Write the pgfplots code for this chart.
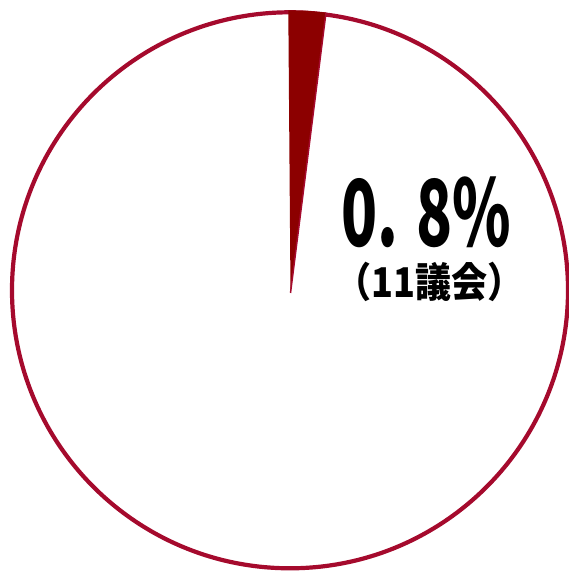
\documentclass[border=0pt]{standalone}
\usepackage{fontspec}
\usepackage{pgfplots}
\pgfplotsset{compat=1.18}
\newfontfamily\cjk{Noto Sans CJK JP}
\definecolor{ring}{RGB}{165,10,45}
\definecolor{slice}{RGB}{140,0,0}
\begin{document}
\begin{tikzpicture}
\useasboundingbox (0,0) rectangle (569pt,572pt);
\begin{axis}[width=569pt,height=572pt,scale only axis,
  xmin=0,xmax=569,ymin=0,ymax=572,hide axis,clip=false,
  at={(0,0)},anchor=south west]
\draw[ring, line width=4.2pt] (axis cs:290,281.7) circle[radius=278];
\addplot[fill=slice, draw=none] coordinates {(290.5,279) (288.3,561.7) (307,561.2) (326,559.4)} -- cycle;
\addplot[ring, line width=1.5pt] coordinates {(290.5,279) (326,559.4)};
\node[anchor=base west, inner sep=0pt] at (axis cs:341,325)
  {\cjk\bfseries\fontsize{92}{92}\selectfont\scalebox{0.645}[1]{0. 8\%}};
\node[anchor=base west, inner sep=0pt] at (axis cs:335,274)
  {\cjk\bfseries\fontsize{41}{41}\selectfont\scalebox{0.88}[1]{（11議会）}};
\end{axis}
\end{tikzpicture}
\end{document}
